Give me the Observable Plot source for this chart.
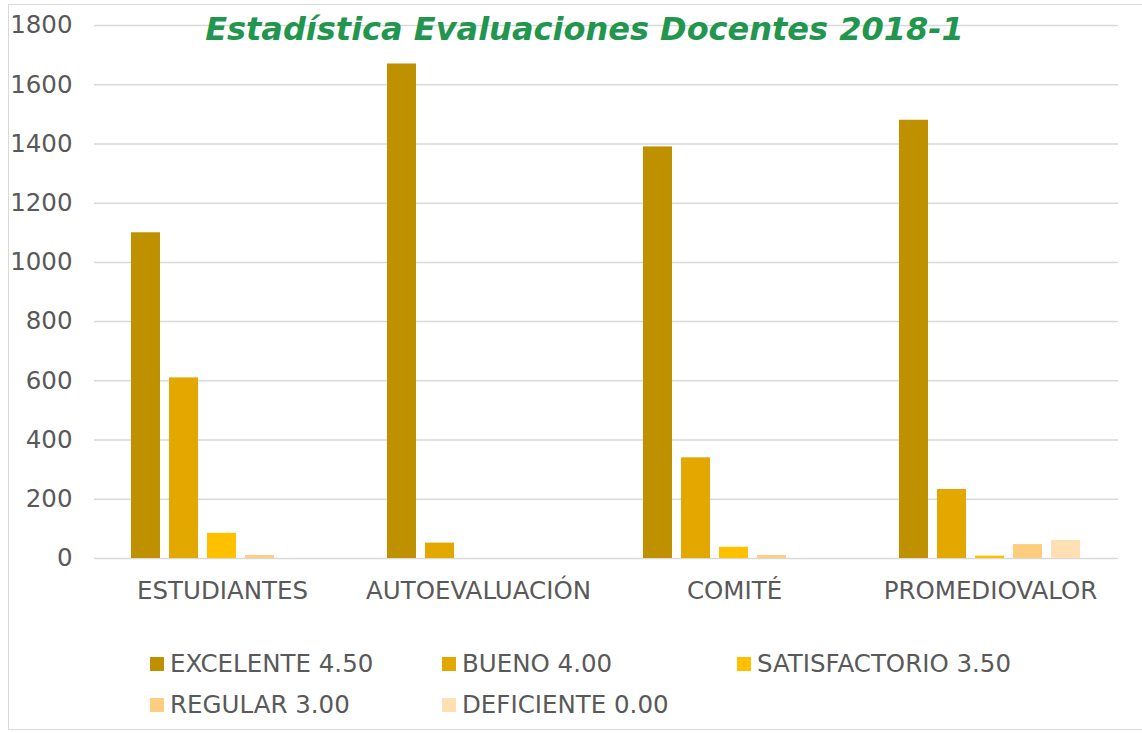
<!DOCTYPE html>
<html>
<head>
<meta charset="utf-8">
<script src="https://cdn.jsdelivr.net/npm/d3@7"></script>
<script src="https://cdn.jsdelivr.net/npm/@observablehq/plot@0.6"></script>
<style>
  html, body { margin: 0; padding: 0; background: #fff; overflow: hidden; }
  #wrap { position: relative; width: 1142px; height: 733px; overflow: hidden; font-family: "DejaVu Sans", Verdana, sans-serif; }
  #frame { position: absolute; left: 8px; top: 4px; width: 1200px; height: 726px; border: 1.5px solid #d9d9d9; box-sizing: border-box; }
  #chart { position: absolute; left: 0; top: 0; }
  #title { position: absolute; left: 0; width: 1169px; top: 9px; text-align: center; font-size: 32px; line-height: 40px; font-weight: bold; font-style: italic; color: #22964f; }
  .leg { position: absolute; display: flex; align-items: center; font-size: 24.5px; color: #595959; line-height: 28px; white-space: nowrap; }
  .leg span.sw { display: inline-block; width: 14px; height: 14px; margin-right: 6px; }
</style>
</head>
<body>
<div id="wrap">
  <div id="frame"></div>
  <div id="chart"></div>
  <div id="title">Estadística Evaluaciones Docentes 2018-1</div>
  <div id="legend"></div>
</div>
<script>
const categories = ["ESTUDIANTES", "AUTOEVALUACIÓN", "COMITÉ", "PROMEDIOVALOR"];
const series = ["EXCELENTE 4.50", "BUENO 4.00", "SATISFACTORIO 3.50", "REGULAR 3.00", "DEFICIENTE 0.00"];
const excelente = [1100, 1670, 1390, 1480];
const bueno = [610, 52, 340, 233];
const satisfactorio = [85, 0, 38, 8];
const regular = [10, 0, 10, 47];
const deficiente = [0, 0, 0, 61];
const yTicks = [0, 200, 400, 600, 800, 1000, 1200, 1400, 1600, 1800];
const colors = ["#bf9000", "#e2a800", "#ffc000", "#ffcd80", "#ffdfb4"];

const seriesValues = [excelente, bueno, satisfactorio, regular, deficiente];
const data = [];
categories.forEach((c, i) => {
  series.forEach((s, j) => {
    data.push({ cat: c, series: s, value: seriesValues[j][i] });
  });
});

const chart = Plot.plot({
  width: 1142,
  height: 620,
  marginTop: 25,
  marginBottom: 62,
  marginLeft: 94,
  marginRight: 24,
  style: { fontFamily: "DejaVu Sans, Verdana, sans-serif", color: "#595959", background: "transparent" },
  fx: { domain: categories, padding: 0, label: null },
  x: { domain: series, paddingInner: 0.23, paddingOuter: 0.9, axis: null },
  y: { domain: [0, 1800], label: null },
  color: { domain: series, range: colors },
  marks: [
    Plot.gridY(yTicks, { stroke: "#d9d9d9", strokeOpacity: 1, strokeWidth: 1.5 }),
    Plot.axisY(yTicks, { tickSize: 0, tickPadding: 22, fontSize: 24.5, fill: "#595959", label: null, tickFormat: d => String(d) }),
    Plot.axisFx({ anchor: "bottom", tickSize: 0, tickPadding: 23, fontSize: 24.5, fill: "#595959", label: null }),
    Plot.barY(data, { fx: "cat", x: "series", y: "value", fill: "series" })
  ]
});
document.getElementById("chart").appendChild(chart);

const legendPos = [
  [150, 650], [442, 650], [737, 650],
  [150, 691], [442, 691]
];
const legend = document.getElementById("legend");
series.forEach((s, i) => {
  const d = document.createElement("div");
  d.className = "leg";
  d.style.left = legendPos[i][0] + "px";
  d.style.top = legendPos[i][1] + "px";
  const sw = document.createElement("span");
  sw.className = "sw";
  sw.style.background = colors[i];
  d.appendChild(sw);
  const t = document.createElement("span");
  t.textContent = s;
  d.appendChild(t);
  legend.appendChild(d);
});
</script>
</body>
</html>
